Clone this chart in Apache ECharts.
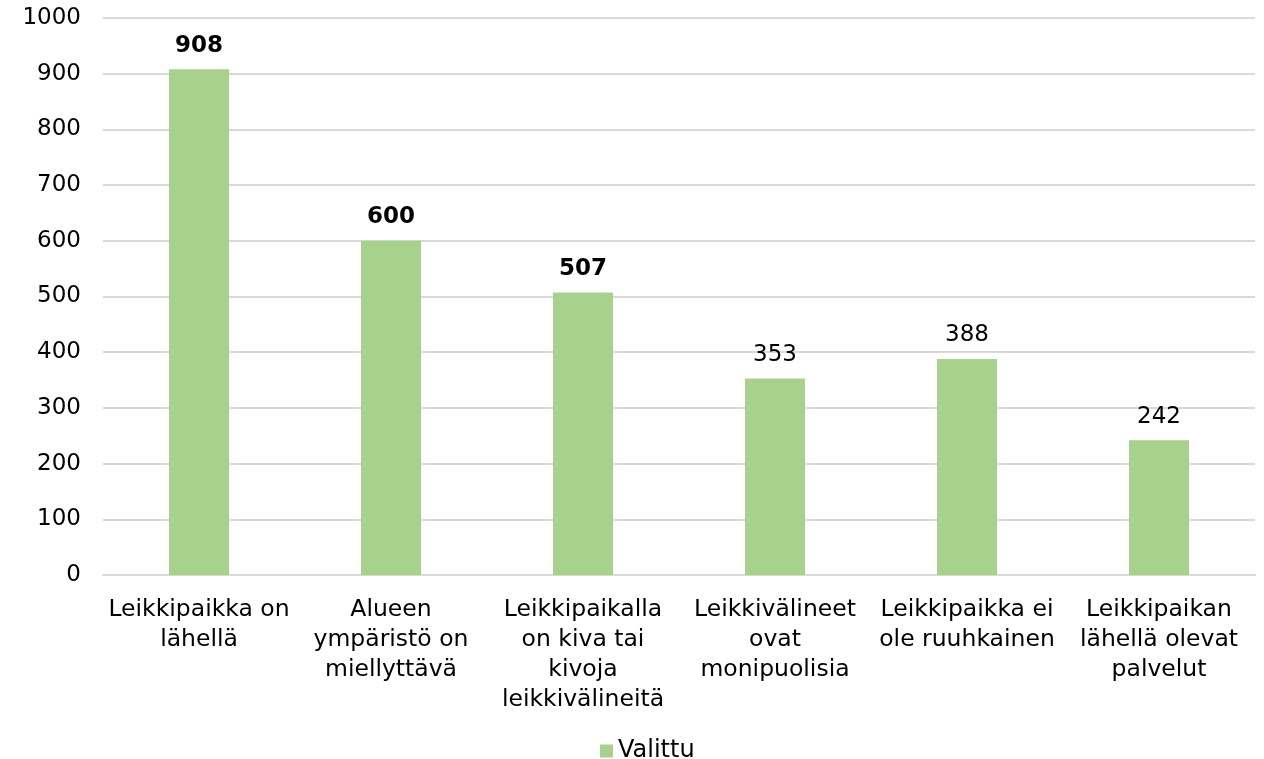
<!DOCTYPE html>
<html>
<head>
<meta charset="utf-8">
<script src="https://cdn.jsdelivr.net/npm/echarts@6/dist/echarts.min.js"></script>
<style>
html, body { margin: 0; padding: 0; background: #fff; }
#chart { width: 1264px; height: 759px; }
</style>
</head>
<body>
<div id="chart"></div>
<script>
var categories = [
    'Leikkipaikka on\nlähellä',
    'Alueen\nympäristö on\nmiellyttävä',
    'Leikkipaikalla\non kiva tai\nkivoja\nleikkivälineitä',
    'Leikkivälineet\novat\nmonipuolisia',
    'Leikkipaikka ei\nole ruuhkainen',
    'Leikkipaikan\nlähellä olevat\npalvelut'
];
var valittu = [908, 600, 507, 353, 388, 242];
// the top three values are shown in bold
var boldTop = 3;

var chart = echarts.init(document.getElementById('chart'));
var font = 'DejaVu Sans';

chart.setOption({
    animation: false,
    textStyle: { fontFamily: font },
    grid: { left: 103, right: 9, top: 18, bottom: 184 },
    legend: {
        top: 734,
        left: 595,
        itemWidth: 13,
        itemHeight: 13,
        icon: 'rect',
        textStyle: { fontFamily: font, fontSize: 24, color: '#000' },
        data: ['Valittu']
    },
    xAxis: {
        type: 'category',
        data: categories,
        axisTick: { show: false },
        axisLine: { lineStyle: { color: '#D9D9D9', width: 2 } },
        axisLabel: {
            interval: 0,
            margin: 20,
            fontFamily: font,
            fontSize: 23.5,
            lineHeight: 30,
            color: '#000',
            align: 'center'
        }
    },
    yAxis: {
        type: 'value',
        min: 0,
        max: 1000,
        interval: 100,
        axisLine: { show: false },
        axisTick: { show: false },
        splitLine: { lineStyle: { color: '#D9D9D9', width: 2 } },
        axisLabel: {
            margin: 22,
            fontFamily: font,
            fontSize: 23,
            color: '#000',
            formatter: function (v) { return String(v); }
        }
    },
    series: [{
        name: 'Valittu',
        type: 'bar',
        barWidth: 60,
        itemStyle: { color: '#A9D18E' },
        label: {
            show: true,
            position: 'top',
            distance: 12,
            fontFamily: font,
            fontSize: 23,
            color: '#000'
        },
        data: valittu.map(function (v, i) {
            return {
                value: v,
                label: { fontWeight: i < boldTop ? 'bold' : 'normal' }
            };
        })
    }]
});
</script>
</body>
</html>
